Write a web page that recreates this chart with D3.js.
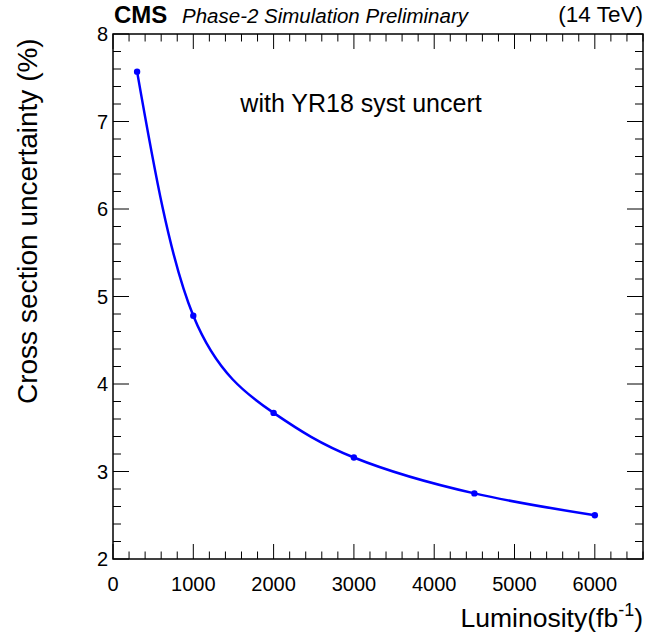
<!DOCTYPE html>
<html><head><meta charset="utf-8">
<script src="https://cdn.jsdelivr.net/npm/d3@7"></script>
<style>body{margin:0;background:#fff}svg{display:block}text{font-family:"Liberation Sans",Arial,sans-serif}</style>
</head><body>
<svg id="c" width="663" height="637"></svg>
<script>
const luminosity = [300, 1000, 2000, 3000, 4500, 6000];
const uncertainty = [7.57, 4.78, 3.67, 3.16, 2.75, 2.50];
const xTicks = [0, 1000, 2000, 3000, 4000, 5000, 6000];
const yTicks = [2, 3, 4, 5, 6, 7, 8];

const svg = d3.select("#c");
const L = 113, R = 643, T = 34, B = 559;
const x = d3.scaleLinear().domain([0, 6600]).range([L, R]);
const y = d3.scaleLinear().domain([2, 8]).range([B, T]);

const xMinor = d3.range(0, 6601, 200).filter(v => v % 1000 !== 0);
const yMinor = d3.range(20, 81, 2).map(v => v / 10).filter(v => Math.abs(v - Math.round(v)) > 1e-6);

const g = svg.append("g");
function xt(vals, len) {
  vals.forEach(v => {
    g.append("line").attr("x1", x(v)).attr("x2", x(v)).attr("y1", B).attr("y2", B - len).attr("stroke", "#000").attr("stroke-width", 1);
    g.append("line").attr("x1", x(v)).attr("x2", x(v)).attr("y1", T).attr("y2", T + len).attr("stroke", "#000").attr("stroke-width", 1);
  });
}
function yt(vals, len) {
  vals.forEach(v => {
    g.append("line").attr("x1", L).attr("x2", L + len).attr("y1", y(v)).attr("y2", y(v)).attr("stroke", "#000").attr("stroke-width", 1);
    g.append("line").attr("x1", R).attr("x2", R - len).attr("y1", y(v)).attr("y2", y(v)).attr("stroke", "#000").attr("stroke-width", 1);
  });
}
xt(xTicks, 15); xt(xMinor, 7.5);
yt(yTicks, 16); yt(yMinor, 8);

g.append("rect").attr("x", L).attr("y", T).attr("width", R - L).attr("height", B - T)
  .attr("fill", "none").attr("stroke", "#000").attr("stroke-width", 1.5);

g.selectAll(".xl").data(xTicks).enter().append("text")
  .attr("x", d => x(d)).attr("y", B + 32).attr("text-anchor", "middle")
  .attr("font-size", 20).text(d => d);
g.selectAll(".yl").data(yTicks).enter().append("text")
  .attr("x", L - 5).attr("y", d => y(d) + 7).attr("text-anchor", "end")
  .attr("font-size", 20).text(d => d);

const pts = luminosity.map((d, i) => [x(d), y(uncertainty[i])]);
g.append("path").attr("d", d3.line().curve(d3.curveNatural)(pts))
  .attr("fill", "none").attr("stroke", "#0000ff").attr("stroke-width", 2.5);
g.selectAll(".pt").data(pts).enter().append("circle")
  .attr("cx", d => d[0]).attr("cy", d => d[1]).attr("r", 3.2).attr("fill", "#0000ff");

svg.append("text").attr("x", 114).attr("y", 23).attr("font-size", 24).attr("font-weight", "bold").text("CMS");
svg.append("text").attr("x", 182).attr("y", 23).attr("font-size", 20.5).attr("font-style", "italic").text("Phase-2 Simulation Preliminary");
svg.append("text").attr("x", 643).attr("y", 22).attr("font-size", 22.5).attr("text-anchor", "end").text("(14 TeV)");
svg.append("text").attr("x", 361).attr("y", 112).attr("font-size", 25).attr("text-anchor", "middle").text("with YR18 syst uncert");

svg.append("text").attr("transform", "translate(37,404) rotate(-90)").attr("font-size", 28)
  .attr("text-anchor", "start").text("Cross section uncertainty (%)");
const xl = svg.append("text").attr("x", 643).attr("y", 627).attr("font-size", 26.5).attr("text-anchor", "end");
xl.append("tspan").text("Luminosity(fb");
xl.append("tspan").attr("font-size", 18).attr("dy", -11).text("-1");
xl.append("tspan").attr("dy", 11).text(")");
</script>
</body></html>
